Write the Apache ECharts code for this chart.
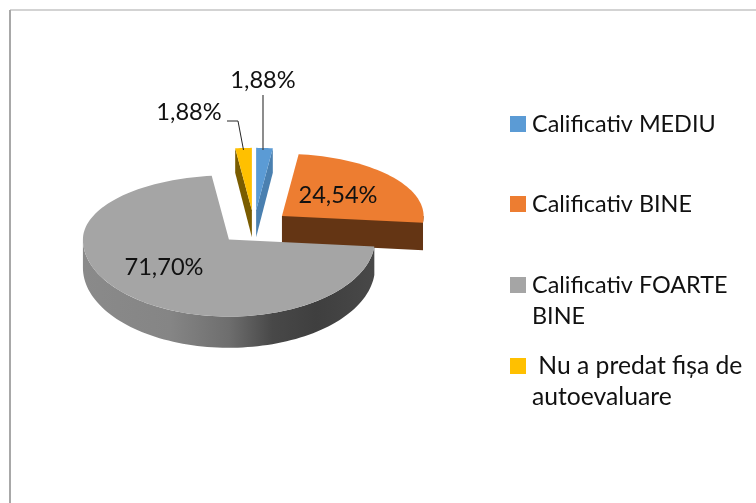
<!DOCTYPE html>
<html>
<head>
<meta charset="utf-8">
<style>
    html, body { margin: 0; padding: 0; background: #fff; }
    #main { width: 756px; height: 503px; }
</style>
<script src="https://cdn.jsdelivr.net/npm/echarts@6/dist/echarts.min.js"></script>
</head>
<body>
<div id="main"></div>
<script>
// values
const categories = ['Calificativ MEDIU', 'Calificativ BINE', 'Calificativ FOARTE BINE', 'Nu a predat fișa de autoevaluare'];
const values = [1.88, 24.54, 71.70, 1.88];
const legendLines = [['Calificativ MEDIU'], ['Calificativ BINE'], ['Calificativ FOARTE', 'BINE'], [' Nu a predat fișa de', 'autoevaluare']];

const topColors = ['#5b9bd5', '#ed7d31', '#a5a5a5', '#ffc000'];
const wallColors = ['#4a80b0', '#643514', '#7f7f7f', '#7a5c00'];
const sliceScale = [0.97, 0.97, 1, 0.97];
const sliceOrder = [1, 1, 2, 1];
const labelPos = [[263, 80], [338, 195], [164, 267], [189, 112]];
const legendY = [124, 204, 285, 366];
const legendFont = [23.4, 23.4, 23.4, 24.7];

// the tilted pie, fake 3D
const cx = 254, cy = 226, rx = 146;
const kUp = 0.44, kDown = 0.527;
const explode = 36;

const total = values.reduce((a, b) => a + b, 0);

function project(deg, r) {
    const a = deg * Math.PI / 180;
    const c = Math.cos(a);
    return [r * Math.sin(a), -r * c * (c > 0 ? kUp : kDown)];
}
function depthAt(y) {
    return 27 + (y - 211) * 0.04;
}
function arcPoints(from, to, r, ox, oy) {
    const pts = [];
    const n = Math.max(6, Math.ceil(Math.abs(to - from) / 2));
    for (let i = 0; i <= n; i++) {
        const p = project(from + (to - from) * i / n, r);
        pts.push([ox + p[0], oy + p[1]]);
    }
    return pts;
}
function down(p) {
    return [p[0], p[1] + depthAt(p[1])];
}

function renderSlice(params, api) {
    const i = params.dataIndex;
    let start = 0;
    for (let k = 0; k < i; k++) start += values[k];
    const v = api.value(0);
    const a0 = start / total * 360;
    const a1 = (start + v) / total * 360;
    const mid = (a0 + a1) / 2;
    const r = rx * sliceScale[i];
    const off = project(mid, explode);
    const ox = cx + off[0], oy = cy + off[1];
    const apex = [ox, oy];
    const arc = arcPoints(a0, a1, r, ox, oy);
    const z = sliceOrder[i] * 10;
    const children = [];

    // side walls first
    if (i === 0) {
        const e = arc[arc.length - 1];
        children.push({ type: 'polygon', z2: z, shape: { points: [apex, e, down(e), down(apex)] }, style: { fill: wallColors[i] } });
    }
    if (i === 3) {
        const e = arc[0];
        children.push({ type: 'polygon', z2: z, shape: { points: [apex, e, down(e), down(apex)] }, style: { fill: wallColors[i] } });
    }
    if (i === 1) {
        const e = arc[arc.length - 1];
        const rim = arcPoints(Math.max(a0, 90), a1, r, ox, oy);
        const pts = [apex].concat(rim).concat([down(e), down(apex)]);
        children.push({ type: 'polygon', z2: z, shape: { points: pts }, style: { fill: wallColors[i] } });
    }
    if (i === 2) {
        const rim = arcPoints(a0, 270, r, ox, oy);
        const pts = rim.concat(rim.slice().reverse().map(down));
        children.push({
            type: 'polygon', z2: z,
            shape: { points: pts },
            style: {
                fill: new echarts.graphic.LinearGradient(0, 0, 1, 0, [
                    { offset: 0, color: '#8a8a8a' },
                    { offset: 0.3, color: '#858585' },
                    { offset: 0.5, color: '#6e6e6e' },
                    { offset: 0.65, color: '#484848' },
                    { offset: 0.8, color: '#3f3f3f' },
                    { offset: 1, color: '#484848' }
                ])
            }
        });
    }
    // top face
    children.push({
        type: 'polygon', z2: z + 1,
        shape: { points: [apex].concat(arc) },
        style: { fill: topColors[i] }
    });
    // leader lines of the two small slices
    const m = arcPoints(mid, mid, r, ox, oy)[0];
    if (i === 0) {
        children.push({ type: 'polyline', z2: 30, shape: { points: [[labelPos[i][0], 95], [labelPos[i][0], m[1] + 2]] }, style: { fill: 'none', stroke: '#404040', lineWidth: 1.2 } });
    }
    if (i === 3) {
        children.push({ type: 'polyline', z2: 30, shape: { points: [[227, 121], [238, 121], [m[0], m[1] + 2]] }, style: { fill: 'none', stroke: '#262626', lineWidth: 1 } });
    }
    children.push({
        type: 'text', z2: 31,
        style: {
            x: labelPos[i][0], y: labelPos[i][1],
            text: v.toFixed(2).replace('.', ',') + '%',
            fill: '#111111', font: '23.6px Lato, sans-serif',
            textAlign: 'center', textVerticalAlign: 'middle'
        }
    });
    return { type: 'group', children: children };
}

// legend is placed by hand, every row on its own step
const legendGraphic = [];
categories.forEach(function (name, i) {
    legendGraphic.push({
        type: 'rect', left: 510, top: legendY[i] - 8,
        shape: { width: 16, height: 16 }, style: { fill: topColors[i] }
    });
    legendLines[i].forEach(function (line, j) {
        legendGraphic.push({
            type: 'text', x: 532, y: legendY[i] + j * 31,
            style: { text: line, fill: '#111111', font: legendFont[i] + 'px Lato, sans-serif', textVerticalAlign: 'middle' }
        });
    });
});

const borderGraphic = [
    { type: 'line', shape: { x1: 10, y1: 10, x2: 756, y2: 10 }, style: { stroke: '#c4c4c4', lineWidth: 1.5 } },
    { type: 'line', shape: { x1: 10, y1: 10, x2: 10, y2: 503 }, style: { stroke: '#a8a8a8', lineWidth: 2 } }
];

const myChart = echarts.init(document.getElementById('main'), null, { renderer: 'canvas' });
myChart.setOption({
    backgroundColor: '#ffffff',
    animation: false,
    graphic: { elements: borderGraphic.concat(legendGraphic) },
    series: [{
        type: 'custom',
        coordinateSystem: 'none',
        renderItem: renderSlice,
        data: values.map(function (v, i) { return { name: categories[i], value: [v] }; })
    }]
});
</script>
</body>
</html>
